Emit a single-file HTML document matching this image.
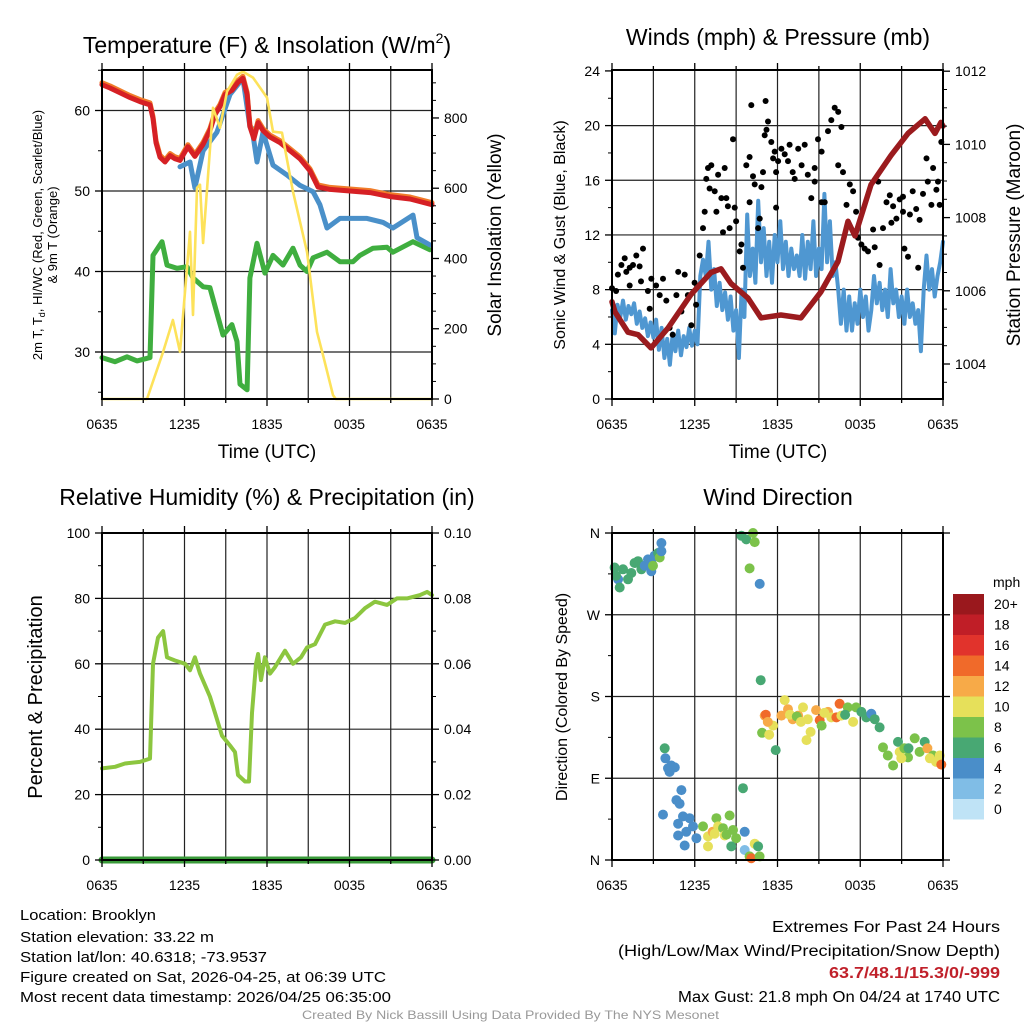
<!DOCTYPE html>
<html><head><meta charset="utf-8"><style>
html,body{margin:0;padding:0;background:#fff}
svg{display:block;font-family:"Liberation Sans",sans-serif}
</style></head><body>
<svg id="s" width="1024" height="1024" viewBox="0 0 1024 1024" xmlns="http://www.w3.org/2000/svg">
<rect width="1024" height="1024" fill="#fff"/>
<g id="grid"></g>
<g id="marks"></g>
<g id="frames"></g>
<g id="texts" font-size="14" fill="#000">
<text x="267" y="53" font-size="23" text-anchor="middle">Temperature (F) &amp; Insolation (W/m<tspan font-size="14" dy="-10">2</tspan><tspan dy="10">)</tspan></text>
<text x="778" y="45" font-size="23" text-anchor="middle">Winds (mph) &amp; Pressure (mb)</text>
<text x="267" y="505" font-size="23" text-anchor="middle">Relative Humidity (%) &amp; Precipitation (in)</text>
<text x="778" y="505" font-size="23" text-anchor="middle">Wind Direction</text>
<text x="267" y="458" font-size="19" text-anchor="middle">Time (UTC)</text>
<text x="778" y="458" font-size="19" text-anchor="middle">Time (UTC)</text>
<text transform="translate(42,235) rotate(-90)" font-size="13" text-anchor="middle">2m T, T<tspan font-size="9" dy="3">d</tspan><tspan dy="-3">, HI/WC (Red, Green, Scarlet/Blue)</tspan></text>
<text transform="translate(57,235) rotate(-90)" font-size="13" text-anchor="middle">&amp; 9m T (Orange)</text>
<text transform="translate(501,235) rotate(-90)" font-size="19" text-anchor="middle">Solar Insolation (Yellow)</text>
<text transform="translate(565,235) rotate(-90)" font-size="16" text-anchor="middle">Sonic Wind &amp; Gust (Blue, Black)</text>
<text transform="translate(1020,235) rotate(-90)" font-size="19" text-anchor="middle">Station Pressure (Maroon)</text>
<text transform="translate(42,697) rotate(-90)" font-size="20" text-anchor="middle">Percent &amp; Precipitation</text>
<text transform="translate(567,697) rotate(-90)" font-size="16" text-anchor="middle">Direction (Colored By Speed)</text>
<text x="993" y="587" font-size="14">mph</text>
<g font-size="14.5">
<text x="20" y="920" textLength="136" lengthAdjust="spacingAndGlyphs">Location: Brooklyn</text>
<text x="20" y="942" textLength="194" lengthAdjust="spacingAndGlyphs">Station elevation: 33.22 m</text>
<text x="20" y="962" textLength="247" lengthAdjust="spacingAndGlyphs">Station lat/lon: 40.6318; -73.9537</text>
<text x="20" y="982" textLength="366" lengthAdjust="spacingAndGlyphs">Figure created on Sat, 2026-04-25, at 06:39 UTC</text>
<text x="20" y="1002" textLength="371" lengthAdjust="spacingAndGlyphs">Most recent data timestamp: 2026/04/25 06:35:00</text>
</g>
<g font-size="15.5">
<text x="772" y="932" textLength="228" lengthAdjust="spacingAndGlyphs">Extremes For Past 24 Hours</text>
<text x="618" y="956" textLength="382" lengthAdjust="spacingAndGlyphs">(High/Low/Max Wind/Precipitation/Snow Depth)</text>
<text x="829" y="978" textLength="171" lengthAdjust="spacingAndGlyphs" fill="#c0202a" font-weight="bold">63.7/48.1/15.3/0/-999</text>
<text x="678" y="1002" textLength="322" lengthAdjust="spacingAndGlyphs">Max Gust: 21.8 mph On 04/24 at 1740 UTC</text>
</g>
<text x="302" y="1019" font-size="12" fill="#999" textLength="417" lengthAdjust="spacingAndGlyphs">Created By Nick Bassill Using Data Provided By The NYS Mesonet</text>
</g>
</svg>
<script>
// ---- data (time in hours since 0635 UTC) ----
const xTickLabels=["0635","1235","1835","0035","0635"];
const tempTicks=[30,40,50,60];
const insolTicks=[0,200,400,600,800];
const windTicks=[0,4,8,12,16,20,24];
const presTicks=[1004,1006,1008,1010,1012];
const rhTicks=[0,20,40,60,80,100];
const precipTicks=["0.00","0.02","0.04","0.06","0.08","0.10"];
const dirTicks=["N","E","S","W","N"];
const speedBins=["0","2","4","6","8","10","12","14","16","18","20+"];
const speedColors=["#bfe3f6","#80bde6","#4a8ec9","#48a873","#7cc24a","#e6e05a","#f7aa48","#f06a2a","#e1332c","#c01e27","#9a181d"];

const tTime=[0,0.58,1.31,2.04,2.76,3.49,3.71,3.93,4.22,4.58,4.95,5.31,5.67,6.25,6.76,7.35,7.85,8.22,8.58,8.95,9.45,9.89,10.25,10.55,10.76,11.05,11.35,11.71,12.22,12.95,13.67,14.4,15.13,15.71,16.58,18.04,19.49,20.95,22.4,24];
const tTemp=[63.2,62.8,62.2,61.6,61.1,60.7,59,56,54.2,53.6,54.4,54,53.8,55.5,54.3,55.8,57.5,59.5,60.5,62,62.5,63.5,64,62,58,56.5,58.5,57.5,56.7,56,55,54,52.5,50.5,50.2,50,49.8,49.3,49,48.3];
const hiTime=[5.67,6.4,6.76,7.35,8.36,9.31,10.25,10.76,10.91,11.27,11.71,12.44,13.45,14.4,15.35,15.85,16.36,17.31,19.27,20.44,21.16,22.62,22.91,23.85];
const hiTemp=[53,53.6,50.4,55,57.3,62,64,58,57.8,53.6,57.3,53.2,52,50.7,49.9,48.3,45.4,46.6,46.6,46.1,45.4,47,44.2,43.3];
const tdTime=[0,0.95,1.82,2.55,3.49,3.71,4.36,4.73,5.45,6.18,6.62,7.35,7.85,8.8,9.45,9.82,10.04,10.55,10.76,11.27,11.85,12.44,13.16,13.89,14.4,14.91,15.35,16.36,17.31,18.25,18.76,19.71,20.73,21.16,22.62,23.85];
const tdVal=[29.3,28.8,29.4,28.9,29.3,42,43.7,40.8,40.4,40.6,39.2,38.1,38,32.1,33.4,31.3,26,25.3,39.2,43.5,39.8,42,40.8,42.9,40.8,40,41.7,42.4,41.2,41.2,42,42.9,43,42.4,43.7,42.7];
const solTime=[0,3.27,4.44,5.16,5.67,6.4,6.62,6.91,7.13,7.35,8.07,8.58,9.09,9.82,10.25,10.98,12.0,12.44,13.09,13.89,14.91,15.64,16.07,16.8,17.0,24];
const solVal=[0,0,134,225,134,476,239,601,610,444,829,772,875,923,932,915,858,761,758,590,419,191,125,11,0,0];

const wTime=[0,0.2,0.4,0.6,0.8,1,1.2,1.4,1.6,1.8,2,2.2,2.4,2.6,2.8,3,3.2,3.4,3.6,3.8,4,4.2,4.4,4.6,4.8,5,5.2,5.4,5.6,5.8,6,6.2,6.4,6.6,6.8,7,7.2,7.4,7.6,7.8,8,8.2,8.4,8.6,8.8,9,9.2,9.4,9.6,9.8,10,10.2,10.4,10.6,10.8,11,11.2,11.4,11.6,11.8,12,12.2,12.4,12.6,12.8,13,13.2,13.4,13.6,13.8,14,14.2,14.4,14.6,14.8,15,15.2,15.4,15.6,15.8,16,16.2,16.4,16.6,16.8,17,17.2,17.4,17.6,17.8,18,18.2,18.4,18.6,18.8,19,19.2,19.4,19.6,19.8,20,20.2,20.4,20.6,20.8,21,21.2,21.4,21.6,21.8,22,22.2,22.4,22.6,22.8,23,23.2,23.4,23.6,23.8,24];
const wSpeed=[6.5,4.8,6.9,6.0,7.2,5.8,6.8,6.2,7.0,5.5,6.4,5.2,5.9,4.6,5.6,4.5,5.8,3.6,5.2,3.0,4.4,2.5,4.8,3.5,5.0,3.2,4.6,3.8,5.2,3.9,5.0,4.0,9.0,10.2,9.0,11.5,8.0,9.5,6.8,8.5,6.5,7.8,5.8,7.5,5.0,6.5,3.0,8.0,6.0,13.5,9.0,11.0,8.5,14.5,10.0,12.5,9.0,11.5,8.5,12.0,10.0,13.0,9.5,11.5,9.0,11.0,9.5,10.5,9.0,12.0,8.8,11.5,9.5,13.0,9.0,11.0,9.5,15.0,10.0,13.0,9.0,10.0,8.0,5.5,8.0,5.0,7.5,5.0,7.0,5.5,8.0,6.0,7.5,5.0,6.5,9.0,7.0,8.5,6.5,8.0,6.0,9.5,7.0,8.0,6.0,7.5,5.5,8.0,6.0,7.0,5.5,6.5,3.5,8.0,10.5,8.0,9.5,7.5,9.0,10.0,11.5];
const pTime=[0,0.22,1.16,1.89,2.83,4.06,5.73,7.18,7.9,8.63,9.86,10.8,12.25,13.7,15.15,16.39,17.11,17.62,18.78,20.23,21.46,22.7,23.42,23.85,24];
const pVal=[1005.7,1005.42,1004.87,1004.8,1004.44,1004.98,1005.9,1006.5,1006.6,1006.2,1005.8,1005.26,1005.34,1005.26,1005.97,1006.8,1007.9,1007.5,1008.9,1009.7,1010.3,1010.7,1010.3,1010.6,1010.5];
const gTime=[0,0.3,0.43,0.68,0.92,1.04,1.28,1.52,1.76,2.0,2.25,1.28,2.1,2.6,2.85,3.2,3.46,3.7,2.73,3.94,4.18,4.4,4.8,5.27,4.67,5.03,5.5,5.75,5.99,6.1,6.36,6.6,6.72,6.84,6.96,7.2,7.08,7.45,7.57,7.69,7.93,8.05,8.17,8.29,8.53,8.77,8.4,8.9,9.0,9.26,9.5,9.38,9.74,9.98,10.1,10.22,10.35,9.98,10.59,10.71,10.83,10.95,11.07,11.14,11.31,11.2,11.55,11.68,11.8,11.9,12.04,12.28,12.52,12.76,11.9,12.88,13.1,13.25,13.5,13.75,13.97,14.2,14.45,14.7,14.94,15.2,15.42,15.66,15.9,16.15,16.4,16.63,16.4,16.75,17.0,17.24,17.48,17.7,17.84,18.08,18.32,18.56,18.93,19.3,19.05,19.4,19.65,19.9,20.14,20.38,20.62,20.86,21.1,21.2,21.46,21.6,21.8,22.06,22.3,22.55,22.8,22.9,23.16,23.28,23.52,23.64,23.76,23.88,22.2,21.1,20.26,15.2,14.7];
const gVal=[8.1,7.9,9.1,9.8,10.3,9.3,9.6,9.8,10.5,9.7,11.0,8.3,8.6,7.9,8.8,8.3,7.6,8.8,6.6,7.2,5.2,4.7,9.3,9.1,7.6,6.4,7.6,5.4,8.5,6.9,10.5,12.5,13.7,16.1,16.9,17.1,15.4,15.2,13.7,16.4,14.7,12.2,16.9,14.7,12.5,19.0,14.1,14.0,13.0,10.8,9.6,11.3,17.1,17.7,21.5,16.3,15.7,14.4,12.5,13.2,15.5,16.6,19.3,21.8,20.3,19.7,18.8,17.6,18.1,16.6,17.4,18.3,17.9,17.4,14.0,18.6,16.6,16.1,18.3,17.1,18.6,16.4,14.7,16.9,19.0,18.1,14.4,19.6,20.4,21.3,21.0,19.9,17.1,16.6,14.2,15.7,15.2,13.7,11.8,11.3,11.0,10.8,12.4,15.9,11.1,9.8,12.5,14.4,14.9,14.1,13.2,14.6,13.7,11.0,10.4,13.5,15.2,13.9,13.1,15.0,17.6,15.9,14.2,16.9,15.3,15.9,14.2,18.8,9.6,14.8,12.9,14.4,15.9];

const rhTime=[0,0.95,1.67,2.76,3.49,3.71,4.07,4.44,4.73,5.31,6.04,6.4,6.76,7.13,7.85,8.22,8.73,9.31,9.67,9.89,10.4,10.69,10.91,11.2,11.35,11.56,11.85,12.22,12.58,13.31,13.89,14.47,14.91,15.49,16.22,16.95,17.67,18.4,19.13,19.85,20.73,21.45,22.18,23.13,23.64,24];
const rhVal=[28,28.5,29.5,30,31,60,68,70,62,61,60,58,62,57,50,45,38,35,33,26,24,24,45,60,63,55,62,57,59,64,60,62,65,66,72,73,72.5,74,77,79,78,80,80,81,82,81];
const precipTime=[0,24];
const precipVal=[0,0];

const dTime=[0.19,0.44,0.56,0.8,1.16,1.4,1.64,1.89,2.13,2.37,2.61,2.85,2.85,3.09,3.34,3.46,3.58,3.58,2.97,0.3,9.38,9.74,10.22,10.35,9.98,10.71,10.78,11.07,11.15,11.68,11.3,10.88,11.4,11.87,12.28,12.52,12.76,13.1,13.5,13.85,14.2,14.4,14.1,14.8,15.06,15.2,15.66,15.9,16.27,16.5,16.63,17.1,17.48,17.7,18.08,18.44,18.8,19.05,19.4,12.9,13.4,15.4,16.9,13.7,19.65,20.0,20.38,20.74,20.86,21.2,21.46,21.95,22.3,22.67,22.87,23.28,23.5,23.76,23.88,21.5,20.98,23.05,3.82,3.87,4.06,4.3,4.55,4.18,5.03,4.67,4.9,3.7,4.79,5.15,5.63,5.39,4.79,5.27,5.87,6.12,6.6,6.96,7.3,7.57,7.69,6.96,8.05,8.17,8.53,8.77,9.0,8.65,9.5,9.62,9.62,10.35,10.59,9.98,10.1,10.7,7.45,8.3];
const dDir=[322,309,300,320,309,316,327,329,320,324,331,329,318,335,338,333,340,349,324,313,357,353,360,350,321,304,198,159,160,148,152,140,138,121,159,176,166,155,159,168,155,141,132,165,154,148,163,157,157,172,159,168,152,168,163,157,161,155,146,160,158,162,160,152,124,115,104,130,119,123,113,134,119,130,123,115,108,115,105,123,112,112,123,112,101,104,102,97,77,66,62,50,40,48,46,31,27,16,37,24,37,26,31,46,37,15,35,27,49,33,24,15,79,31,11,18,15,4,2,4,29,28];
const dSpd=[6,4,6,6,6,6,6,6,6,4,4,4,4,4,6,7,4,4,7,5,5,6,8,8,8,4,6,12,14,10,12,8,10,6,12,10,12,12,12,10,10,10,10,12,14,8,12,10,14,14,10,8,10,7,6,6,4,6,6,10,8,10,6,10,8,8,7,6,10,8,8,7,8,6,12,8,10,10,14,6,10,10,6,4,4,4,4,4,4,3,4,4,4,3,4,4,4,4,4,4,8,10,12,8,10,10,8,10,8,7,8,6,6,4,2,10,6,8,14,8,10,7];

// ---- panel geometry & axis functions ----
const P1={l:102,r:432,t:70,b:399}, P2={l:612,r:943,t:70,b:399}, P3={l:102,r:432,t:533,b:860}, P4={l:612,r:943,t:533,b:860};
const X=(p,h)=>p.l+h*(p.r-p.l)/24;
const yTemp=v=>352-(v-30)*8.05;
const ySol=v=>399-v*0.3513;
const yWind=v=>399-v*13.67;
const yPres=v=>364-(v-1004)*36.6;
const yRH=v=>860-v*3.27;
const yPrecip=v=>860-v*3270;
const yDir=v=>860-v*0.9083;
const NS="http://www.w3.org/2000/svg";
const G=document.getElementById('grid'),M=document.getElementById('marks'),F=document.getElementById('frames'),T=document.getElementById('texts');
function mk(tag,parent,attrs){const e=document.createElementNS(NS,tag);for(const k in attrs)e.setAttribute(k,attrs[k]);parent.appendChild(e);return e;}

function grid(p,ys,name){
  for(let h=3;h<24;h+=3){const l=mk('line',G,{x1:X(p,h),x2:X(p,h),y1:p.t,y2:p.b,stroke:'#222','stroke-width':1.2});
    
    }
  ys.forEach(y=>{const l=mk('line',G,{x1:p.l,x2:p.r,y1:y,y2:y,stroke:'#222','stroke-width':1.2});
    
    });
}
function frame(p,name){
  const r=mk('rect',F,{x:p.l,y:p.t,width:p.r-p.l,height:p.b-p.t,fill:'none',stroke:'#000','stroke-width':2});
  
  
  for(let h=0;h<=24;h+=3){const x=X(p,h);const l=mk('line',F,{x1:x,x2:x,y1:p.b,y2:p.b+(h%6?4:7),stroke:'#000','stroke-width':1.3});
    
    
    const lt=mk('line',F,{x1:x,x2:x,y1:p.t,y2:p.t-(h%6?4:7),stroke:'#000','stroke-width':1.3});
    
    }
  xTickLabels.forEach((s,i)=>{const t=mk('text',T,{x:X(p,i*6),y:p.b+30,'text-anchor':'middle','font-size':14});t.textContent=s;
    
    });
}
function yAxis(x,dir,ticks,fy,labels,name,minor){
  ticks.forEach((v,i)=>{const y=fy(v);const l=mk('line',F,{x1:x,x2:x+dir*7,y1:y,y2:y,stroke:'#000','stroke-width':1.3});
    
    
    const t=mk('text',T,{x:x+dir*12,y:y+5,'text-anchor':dir<0?'end':'start','font-size':14});t.textContent=labels?labels[i]:v;
    
    });
  (minor||[]).forEach(v=>{const y=fy(v);const l=mk('line',F,{x1:x,x2:x+dir*4,y1:y,y2:y,stroke:'#000','stroke-width':1});
    
    });
}
function line(p,ts,vs,fy,color,w,name){
  const d=ts.map((t,i)=>(i?'L':'M')+X(p,t).toFixed(1)+','+fy(vs[i]).toFixed(1)).join('');
  const e=mk('path',M,{d:d,fill:'none',stroke:color,'stroke-width':w,'stroke-linejoin':'round','stroke-linecap':'round'});
  
  
}
function dots(p,ts,vs,fy,colorFn,r,name){
  ts.forEach((t,i)=>{const c=mk('circle',M,{cx:X(p,t).toFixed(1),cy:fy(vs[i]).toFixed(1),r:r,fill:colorFn(i)});
    
    });
}

// Panel 1
grid(P1,tempTicks.map(yTemp),'temp');
line(P1,tdTime,tdVal,yTemp,'#3fae3f',5,'dewpoint-line');
line(P1,hiTime,hiTemp,yTemp,'#4a90c9',5,'heat-index-windchill-line');
line(P1,tTime,tTemp.map(v=>v+0.25),yTemp,'#f07c2a',5,'9m-temperature-line');
line(P1,tTime,tTemp,yTemp,'#d62025',5,'2m-temperature-line');
line(P1,solTime,solVal,ySol,'#fde25a',2.6,'insolation-line');
frame(P1,'temp');
yAxis(P1.l,-1,tempTicks,yTemp,null,'temp-y',[25,35,45,55,65]);
yAxis(P1.r,1,insolTicks,ySol,null,'insolation-y',[50,100,150,250,300,350,450,500,550,650,700,750,850,900]);

// Panel 2
grid(P2,[4,8,12,16,20].map(yWind),'wind');
line(P2,wTime,wSpeed,yWind,'#4f97d1',4,'sonic-wind-line');
dots(P2,gTime,gVal,yWind,()=>'#000',3,'gust-point');
line(P2,pTime,pVal,yPres,'#9b1b1e',5.5,'pressure-line');
frame(P2,'wind');
yAxis(P2.l,-1,windTicks,yWind,null,'wind-y',[2,6,10,14,18,22]);
yAxis(P2.r,1,presTicks,yPres,null,'pressure-y',[1003.5,1004.5,1005,1005.5,1006.5,1007,1007.5,1008.5,1009,1009.5,1010.5,1011,1011.5]);

// Panel 3
grid(P3,[20,40,60,80].map(yRH),'rh');
line(P3,rhTime,rhVal,yRH,'#8cc63f',4,'relative-humidity-line');
line(P3,precipTime,precipVal,yPrecip,'#3a9a3a',7,'precipitation-line');
frame(P3,'rh');
yAxis(P3.l,-1,rhTicks,yRH,null,'rh-y',[10,30,50,70,90]);
yAxis(P3.r,1,precipTicks.map(Number),yPrecip,precipTicks,'precip-y',[0.01,0.03,0.05,0.07,0.09]);

// Panel 4
grid(P4,[90,180,270].map(yDir),'direction');
const binColor=i=>speedColors[Math.min(10,Math.round(dSpd[i]/2))];
dots(P4,dTime,dDir,yDir,binColor,5,'direction-point');
frame(P4,'direction');
yAxis(P4.l,-1,[0,90,180,270,360],yDir,dirTicks,'direction-y',[45,135,225,315]);
(function(){const yd=[0,90,180,270,360];yd.forEach(v=>{const l=mk('line',F,{x1:P4.r,x2:P4.r+7,y1:yDir(v),y2:yDir(v),stroke:'#000','stroke-width':1.3});
  
  });})();
// colorbar
speedBins.forEach((lab,i)=>{const k=10-i;const y=594+i*20.5;
  const r=mk('rect',M,{x:953,y:y,width:31,height:20.5,fill:speedColors[k]});
  
  
  const t=mk('text',T,{x:994,y:y+15,'font-size':14});t.textContent=speedBins[k];
  
  });
</script>
</body></html>
